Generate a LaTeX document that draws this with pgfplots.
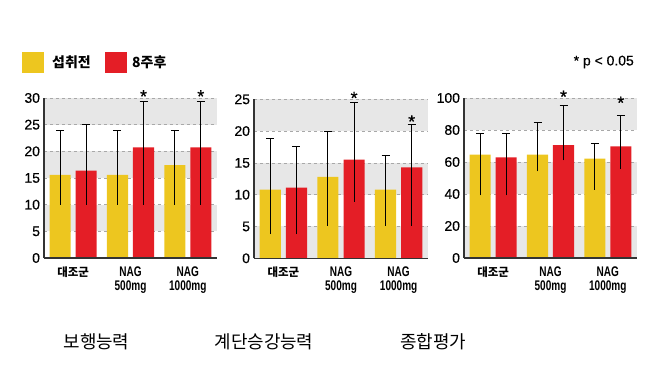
\documentclass[border=0pt]{standalone}
\usepackage{fontspec}
\setmainfont{Liberation Sans}
\newfontfamily\cond{Liberation Sans}[FakeStretch=0.72]
\newfontfamily\tickf{Liberation Sans}[FakeBold=0.5]
\newfontfamily\kr{Noto Sans CJK KR}
\usepackage{pgfplots}
\pgfplotsset{compat=1.18}
\definecolor{ylw}{HTML}{EDC61F}
\definecolor{rd}{HTML}{E41E26}
\definecolor{band}{HTML}{E7E7E7}
\definecolor{gridc}{HTML}{A8A8A8}
\tikzset{gl/.style={gridc, dashed, line width=0.6bp}}
\pgfplotsset{
 panel/.style={
  scale only axis, width=173bp, height=160bp,
  anchor=south west,
  xmin=-0.51, xmax=2.51, ymin=0,
  axis on top,
  axis x line*=bottom, axis y line*=left,
  axis line style={line width=1.3bp, color=black!80},
  xtick={0,1,2}, xticklabels={{\kr\bfseries\fontsize{11.5}{14}\selectfont 대조군},{NAG\\500mg},{NAG\\1000mg}},
  major tick length=0pt,
  x tick label style={align=center, font=\cond\bfseries\fontsize{14}{14}\selectfont, anchor=north, yshift=-5bp},
  y tick label style={font=\tickf\fontsize{14}{14}\selectfont, xshift=-0.5bp},
  clip=false,
  /pgf/number format/assume math mode=true,
 },
 ybr/.style={ybar, bar width=0.367, bar shift=0pt, draw=none, fill=#1},
 eb/.style={draw=none, mark=none, forget plot,
   error bars/.cd, y dir=plus, y explicit, error mark=-,
   error bar style={draw=black, solid, line width=0.9bp},
   error mark options={draw=black, solid, rotate=90, mark size=4bp, line width=0.9bp}},
}
\begin{document}
\begin{tikzpicture}
\path[use as bounding box] (0,0) rectangle (658bp,381bp);
% legend
\fill[ylw] (22bp,308bp) rectangle (44bp,329bp);
\node[anchor=west, inner sep=0pt, font=\kr\bfseries\fontsize{14}{14}\selectfont] at (52bp,318.5bp) {섭취전};
\fill[rd] (105bp,308bp) rectangle (127bp,329bp);
\node[anchor=west, inner sep=0pt, font=\kr\bfseries\fontsize{14}{14}\selectfont] at (132bp,318.5bp) {8주후};
\node[anchor=east, inner sep=0pt, font=\tickf\fontsize{14}{14}\selectfont] at (634bp,319bp) {* p < 0.05};
% titles
\node[font=\kr\fontsize{18}{18}\selectfont] at (96.5bp,39bp) {보행능력};
\node[font=\kr\fontsize{18}{18}\selectfont] at (264bp,39bp) {계단승강능력};
\node[font=\kr\fontsize{18}{18}\selectfont] at (433bp,39bp) {종합평가};

% panel 1
\begin{axis}[panel, at={(44bp,123bp)}, ymax=30, ytick={0,5,...,30}]
\fill[band] (axis cs:-0.51,25) rectangle (axis cs:2.51,30);
\fill[band] (axis cs:-0.51,15) rectangle (axis cs:2.51,20);
\fill[band] (axis cs:-0.51,5) rectangle (axis cs:2.51,10);
\draw[gl] (axis cs:-0.51,5) -- (axis cs:2.51,5);
\draw[gl] (axis cs:-0.51,10) -- (axis cs:2.51,10);
\draw[gl] (axis cs:-0.51,15) -- (axis cs:2.51,15);
\draw[gl] (axis cs:-0.51,20) -- (axis cs:2.51,20);
\draw[gl] (axis cs:-0.51,25) -- (axis cs:2.51,25);
\draw[gl] (axis cs:-0.51,30) -- (axis cs:2.51,30);
\addplot[ybr=ylw] coordinates {(-0.227,15.6) (0.773,15.6) (1.773,17.4)};
\addplot[ybr=rd] coordinates {(0.227,16.4) (1.227,20.75) (2.227,20.75)};
\addplot[eb] coordinates {(-0.227,10) +- (0,14) (0.773,10) +- (0,14) (1.773,10) +- (0,14)};
\addplot[eb] coordinates {(0.227,10) +- (0,15) (1.227,10) +- (0,19.3) (2.227,10) +- (0,19.3)};
\node[font=\tickf\fontsize{18}{18}\selectfont] at (axis cs:1.227,30.3) {*};
\node[font=\tickf\fontsize{18}{18}\selectfont] at (axis cs:2.227,30.3) {*};
\end{axis}

% panel 2
\begin{axis}[panel, at={(254bp,122.7bp)}, width=174bp, height=159bp, ymax=25, ytick={0,5,...,25}]
\fill[band] (axis cs:-0.51,20) rectangle (axis cs:2.51,25);
\fill[band] (axis cs:-0.51,10) rectangle (axis cs:2.51,15);
\fill[band] (axis cs:-0.51,0) rectangle (axis cs:2.51,5);
\draw[gl] (axis cs:-0.51,5) -- (axis cs:2.51,5);
\draw[gl] (axis cs:-0.51,10) -- (axis cs:2.51,10);
\draw[gl] (axis cs:-0.51,15) -- (axis cs:2.51,15);
\draw[gl] (axis cs:-0.51,20) -- (axis cs:2.51,20);
\draw[gl] (axis cs:-0.51,25) -- (axis cs:2.51,25);
\addplot[ybr=ylw] coordinates {(-0.227,10.8) (0.773,12.8) (1.773,10.8)};
\addplot[ybr=rd] coordinates {(0.227,11.1) (1.227,15.5) (2.227,14.3)};
\addplot[eb] coordinates {(-0.227,3.8) +- (0,15.1) (0.773,5.1) +- (0,14.9) (1.773,5.1) +- (0,11.0)};
\addplot[eb] coordinates {(0.227,3.8) +- (0,13.8) (1.227,8.9) +- (0,15.6) (2.227,5.1) +- (0,15.9)};
\node[font=\tickf\fontsize{18}{18}\selectfont] at (axis cs:1.227,25.2) {*};
\node[font=\tickf\fontsize{18}{18}\selectfont] at (axis cs:2.227,21.5) {*};
\end{axis}

% panel 3
\begin{axis}[panel, at={(464bp,123bp)}, ymax=100, ytick={0,20,...,100}]
\fill[band] (axis cs:-0.51,80) rectangle (axis cs:2.51,100);
\fill[band] (axis cs:-0.51,40) rectangle (axis cs:2.51,60);
\fill[band] (axis cs:-0.51,0) rectangle (axis cs:2.51,20);
\draw[gl] (axis cs:-0.51,20) -- (axis cs:2.51,20);
\draw[gl] (axis cs:-0.51,40) -- (axis cs:2.51,40);
\draw[gl] (axis cs:-0.51,60) -- (axis cs:2.51,60);
\draw[gl] (axis cs:-0.51,80) -- (axis cs:2.51,80);
\draw[gl] (axis cs:-0.51,100) -- (axis cs:2.51,100);
\addplot[ybr=ylw] coordinates {(-0.227,64.6) (0.773,64.6) (1.773,62.1)};
\addplot[ybr=rd] coordinates {(0.227,62.9) (1.227,70.6) (2.227,69.8)};
\addplot[eb] coordinates {(-0.227,39.2) +- (0,38.7) (0.773,54.2) +- (0,30.8) (1.773,42.5) +- (0,29.2)};
\addplot[eb] coordinates {(0.227,39.2) +- (0,38.7) (1.227,61) +- (0,34.6) (2.227,55.6) +- (0,33.8)};
\node[font=\tickf\fontsize{18}{18}\selectfont] at (axis cs:1.227,100.8) {*};
\node[font=\tickf\fontsize{18}{18}\selectfont] at (axis cs:2.227,97) {*};
\end{axis}
\end{tikzpicture}
\end{document}
